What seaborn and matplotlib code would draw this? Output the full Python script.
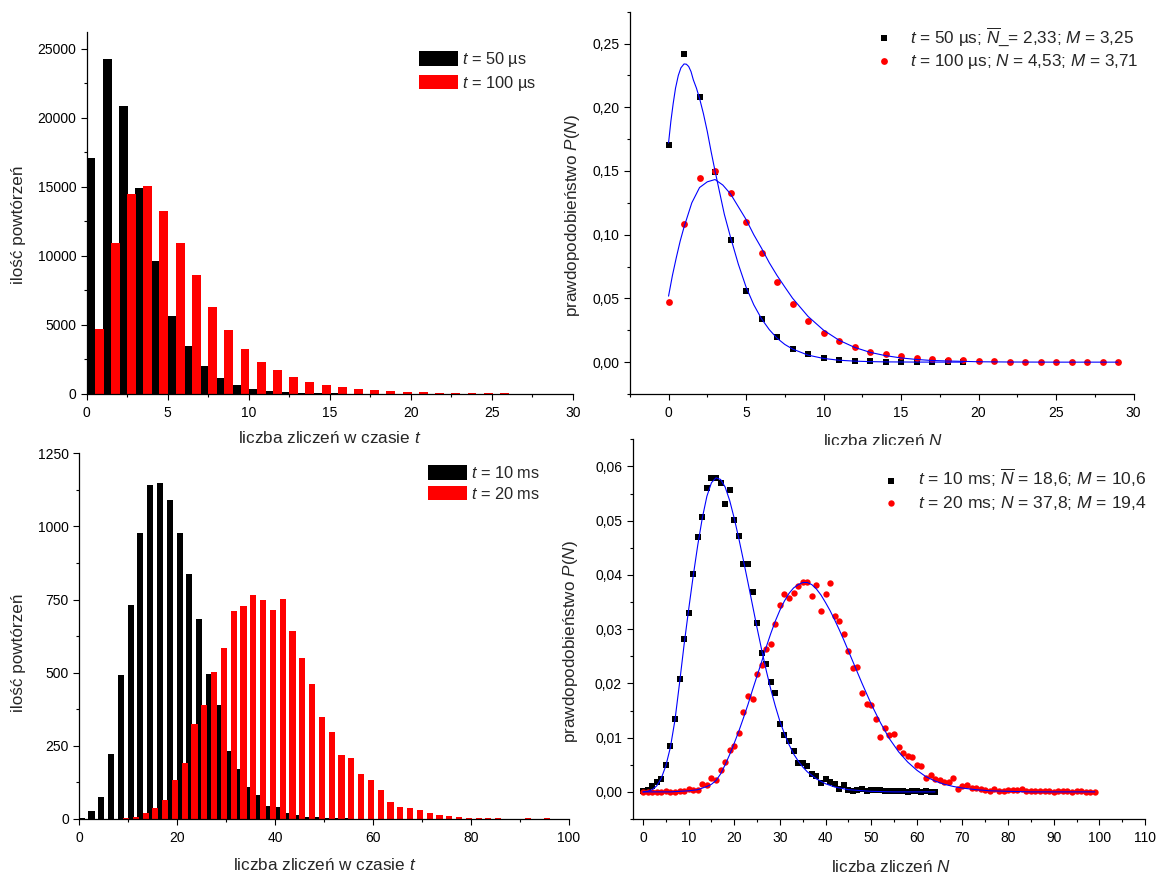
import matplotlib
import numpy as np
import seaborn as sns
from matplotlib.ticker import MultipleLocator, FuncFormatter
from matplotlib.transforms import Bbox, TransformedBbox

matplotlib.use("agg")
import matplotlib.pyplot as plt

W, H = 1157, 874

# --- top left: histograms, 50 us / 100 us -------------------------------
n_short = list(range(30))
hist_50us = [17085, 24230, 20870, 14910, 9580, 5620, 3450, 1980, 1130, 630,
             340, 190, 110, 60, 35, 20, 10, 5, 3, 2,
             1, 1, 0, 0, 0, 0, 0, 0, 0, 0]
hist_100us = [4660, 10880, 14500, 15030, 13270, 10950, 8570, 6300, 4580, 3210,
              2270, 1690, 1180, 820, 600, 480, 340, 270, 190, 130,
              100, 70, 50, 35, 25, 18, 12, 8, 5, 3]

# --- top right: probabilities and fitted curves --------------------------
n_p50 = list(range(20))
p_50us = [0.1707, 0.2419, 0.2084, 0.1492, 0.0958, 0.0560, 0.0340, 0.0194, 0.0107, 0.0060,
          0.0034, 0.0018, 0.0010, 0.0006, 0.0003, 0.0002, 0.0001, 0.0001, 0.0000, 0.0000]
n_p100 = list(range(30))
p_100us = [0.0469, 0.1086, 0.1448, 0.1497, 0.1327, 0.1097, 0.0856, 0.0628, 0.0458, 0.0322,
           0.0228, 0.0168, 0.0118, 0.0081, 0.0060, 0.0050, 0.0034, 0.0026, 0.0018, 0.0013,
           0.0010, 0.0007, 0.0005, 0.0004, 0.0003, 0.0002, 0.0002, 0.0001, 0.0001, 0.0000]

fit50_x = [0, 0.15, 0.3, 0.45, 0.63, 0.8, 1.0, 1.15, 1.3, 1.45, 1.6, 1.8, 2.0, 2.25, 2.5,
           2.75, 3.0, 3.3, 3.6, 4.0, 4.5, 5.0, 5.5, 6.0, 6.5, 7.0, 7.5, 8.0, 9.0, 10.0,
           11.0, 12.0, 13.0, 14.0, 16.0, 19.0]
fit50_y = [0.172, 0.189, 0.203, 0.215, 0.225, 0.231, 0.234, 0.2338, 0.232, 0.228, 0.2215,
           0.215, 0.207, 0.195, 0.181, 0.165, 0.150, 0.133, 0.116, 0.098, 0.077, 0.059,
           0.045, 0.034, 0.0255, 0.0188, 0.0139, 0.0103, 0.0055, 0.0029, 0.0015, 0.0008,
           0.0004, 0.0002, 0.00005, 0.0]
fit100_x = [0, 0.25, 0.5, 0.75, 1.0, 1.5, 2.0, 2.5, 3.0, 3.5, 4.0, 4.5, 5.0, 5.5, 6.0,
            6.5, 7.0, 7.5, 8.0, 9.0, 10.0, 11.0, 12.0, 13.0, 14.0, 15.0, 16.0, 17.0,
            18.0, 20.0, 22.0, 25.0, 29.0]
fit100_y = [0.0518, 0.068, 0.082, 0.095, 0.106, 0.125, 0.137, 0.1415, 0.1433, 0.139,
            0.132, 0.122, 0.112, 0.100, 0.0894, 0.078, 0.068, 0.059, 0.0502, 0.0359,
            0.0251, 0.0172, 0.0116, 0.0077, 0.0051, 0.0033, 0.0021, 0.0013, 0.0009,
            0.0003, 0.0001, 0.0, 0.0]

# --- bottom left: histograms, 10 ms / 20 ms (bins of 2 counts) ------------
bins_10ms = list(range(0, 66, 2))
hist_10ms = [2, 27, 74, 221, 493, 731, 976, 1141, 1149, 1089,
             976, 839, 682, 494, 388, 232, 171, 109, 81, 43,
             41, 22, 14, 8, 6, 4, 3, 2, 1, 1, 0, 0, 1]
bins_20ms = list(range(0, 96, 2))
hist_20ms = [0, 0, 0, 0, 2, 7, 20, 39, 65, 134,
             192, 325, 390, 502, 583, 711, 728, 765, 748, 716,
             752, 642, 552, 461, 350, 297, 219, 209, 154, 132,
             98, 57, 41, 37, 31, 20, 15, 11, 7, 4,
             4, 5, 3, 1, 0, 2, 0, 2]

# --- bottom right: probabilities and fitted curves -----------------------
n_p10 = list(range(65))
p_10ms = [0.0001, 0.0003, 0.0010, 0.0018, 0.0024, 0.0050, 0.0085, 0.0134, 0.0209, 0.0282,
          0.0329, 0.0401, 0.0469, 0.0506, 0.0561, 0.0579, 0.0579, 0.0570, 0.0531, 0.0556,
          0.0501, 0.0472, 0.0420, 0.0420, 0.0369, 0.0312, 0.0256, 0.0236, 0.0202, 0.0183,
          0.0126, 0.0104, 0.0093, 0.0075, 0.0053, 0.0053, 0.0047, 0.0033, 0.0029, 0.0017,
          0.0024, 0.0018, 0.0015, 0.0006, 0.0012, 0.0004, 0.0002, 0.0004, 0.0006, 0.0002,
          0.0003, 0.0003, 0.0004, 0.0002, 0.0001, 0.0002, 0.0001, 0.0001, 0.0000, 0.0001,
          0.0001, 0.0000, 0.0001, 0.0000, 0.0000]
n_p20 = list(range(100))
p_20ms = [0, 0, 0, 0, 0, 0.0001, 0, 0, 0.0001, 0.0001,
          0.0005, 0.0004, 0.0003, 0.0015, 0.0012, 0.0025, 0.0021, 0.0041, 0.0056, 0.0077,
          0.0084, 0.0109, 0.0147, 0.0176, 0.0172, 0.0217, 0.0234, 0.0264, 0.0273, 0.0309,
          0.0345, 0.0365, 0.0358, 0.0367, 0.0379, 0.0387, 0.0387, 0.0361, 0.0382, 0.0333,
          0.0364, 0.0385, 0.0325, 0.0315, 0.0291, 0.0259, 0.0228, 0.0231, 0.0182, 0.0162,
          0.0161, 0.0134, 0.0102, 0.0117, 0.0104, 0.0107, 0.0083, 0.0072, 0.0066, 0.0064,
          0.0050, 0.0047, 0.0025, 0.0032, 0.0023, 0.0021, 0.0019, 0.0018, 0.0025, 0.0005,
          0.0010, 0.0013, 0.0008, 0.0007, 0.0006, 0.0003, 0.0002, 0.0006, 0.0002, 0.0001,
          0.0003, 0.0003, 0.0004, 0.0005, 0.0002, 0.0001, 0.0001, 0.0002, 0.0001, 0.0001,
          0.0000, 0.0002, 0.0001, 0.0001, 0.0000, 0.0001, 0.0001, 0.0000, 0.0000, 0.0000]

fit10_x = [0, 1, 2, 3, 4, 5, 6, 7, 8, 9, 10, 11, 12, 13, 14, 15, 16, 17, 18, 19, 20,
           21, 22, 23, 24, 25, 26, 27, 28, 29, 30, 31, 32, 33, 34, 35, 36, 38, 40, 42,
           45, 50, 55, 64]
fit10_y = [0.0, 0.0001, 0.0004, 0.0011, 0.0025, 0.0048, 0.0082, 0.0132, 0.0200, 0.0271,
           0.0336, 0.0398, 0.0455, 0.0505, 0.0545, 0.0570, 0.0579, 0.0576, 0.0562, 0.0537,
           0.0504, 0.0467, 0.0427, 0.0386, 0.0344, 0.0302, 0.0262, 0.0224, 0.0189, 0.0158,
           0.0130, 0.0107, 0.0087, 0.0070, 0.0057, 0.0046, 0.0037, 0.0024, 0.0015, 0.0009,
           0.0004, 0.0001, 0.0, 0.0]
fit20_x = [0, 6, 8, 10, 12, 14, 15, 16, 17, 18, 19, 20, 21, 22, 23, 24, 25, 26, 27, 28,
           29, 30, 31, 32, 33, 34, 35, 36, 37, 38, 39, 40, 41, 42, 43, 44, 45, 46, 47,
           48, 49, 50, 52, 54, 56, 58, 60, 62, 64, 66, 68, 70, 73, 76, 80, 85, 99]
fit20_y = [0.0, 0.0, 0.0001, 0.0002, 0.0004, 0.0010, 0.0014, 0.0021, 0.0033, 0.0050,
           0.0069, 0.0090, 0.0112, 0.0136, 0.0161, 0.0188, 0.0214, 0.0240, 0.0267, 0.0292,
           0.0315, 0.0335, 0.0352, 0.0366, 0.0376, 0.0382, 0.0386, 0.0386, 0.0382, 0.0374,
           0.0363, 0.0349, 0.0334, 0.0317, 0.0299, 0.0280, 0.0260, 0.0240, 0.0220, 0.0200,
           0.0181, 0.0162, 0.0128, 0.0098, 0.0074, 0.0055, 0.0040, 0.0028, 0.0020, 0.0014,
           0.0010, 0.0007, 0.0004, 0.0002, 0.0001, 0.0, 0.0]

sns.set_style("ticks")
plt.rcParams["font.family"] = ["Liberation Sans", "DejaVu Sans"]
plt.rcParams["mathtext.fontset"] = "custom"
plt.rcParams["mathtext.rm"] = "Liberation Sans"
plt.rcParams["mathtext.it"] = "Liberation Sans:italic"
plt.rcParams["mathtext.bf"] = "Liberation Sans:bold"

fig = plt.figure(figsize=(W / 100, H / 100), dpi=100)
fig.patch.set_facecolor("white")


def fx(px):
    return px / W


def fy(py):
    return 1 - py / H


def axes_px(left, top, right, bottom):
    ax = fig.add_axes([fx(left), fy(bottom), (right - left) / W, (bottom - top) / H])
    ax.set_facecolor("none")
    return ax


def comma(v, pos):
    if abs(v) < 1e-9:
        v = 0.0
    return f"{v:.2f}".replace(".", ",")


def style(ax, xmaj, ymaj, use_comma=False):
    ax.spines[["top", "right"]].set_visible(False)
    for s in ["left", "bottom"]:
        ax.spines[s].set_linewidth(0.9)
        ax.spines[s].set_color("black")
    ax.xaxis.set_major_locator(MultipleLocator(xmaj))
    ax.xaxis.set_minor_locator(MultipleLocator(xmaj / 2))
    ax.yaxis.set_major_locator(MultipleLocator(ymaj))
    ax.yaxis.set_minor_locator(MultipleLocator(ymaj / 2))
    ax.tick_params(which="major", direction="out", length=4.5, width=0.8,
                   labelsize=10, color="black", labelcolor="black")
    ax.tick_params(which="minor", direction="out", length=2.5, width=0.8, color="black")
    ax.tick_params(axis="x", pad=4)
    ax.tick_params(axis="y", pad=3)
    if use_comma:
        ax.yaxis.set_major_formatter(FuncFormatter(comma))


def labels(ax, xl, xc, yl, yc):
    ax.set_xlabel(xl, fontsize=12.3, va="center")
    ax.xaxis.set_label_coords(fx(xc[0]), fy(xc[1]), transform=fig.transFigure)
    ax.set_ylabel(yl, fontsize=12.3, va="center")
    ax.yaxis.set_label_coords(fx(yc[0]), fy(yc[1]), transform=fig.transFigure)


# ---------------- top left ----------------
ax1 = axes_px(86.6, 32, 573, 393.7)
sns.barplot(x=np.array(n_short) + 0.27, y=hist_50us, native_scale=True, width=0.55,
            color="black", saturation=1, linewidth=0, errorbar=None, ax=ax1,
            label=r"$t$ = 50 µs")
sns.barplot(x=np.array(n_short) + 0.77, y=hist_100us, native_scale=True, width=0.55,
            color="#ff0000", saturation=1, linewidth=0, errorbar=None, ax=ax1,
            label=r"$t$ = 100 µs")
ax1.set_xlim(0, 30)
ax1.set_ylim(0, 26200)
style(ax1, 5, 5000)
labels(ax1, r"liczba zliczeń w czasie $t$", (330, 438), "ilość powtórzeń", (18.5, 224.5))
ax1.legend(loc="upper left", bbox_to_anchor=(fx(419), fy(50)), bbox_transform=fig.transFigure,
           frameon=False, fontsize=11.8, handlelength=2.35, handleheight=1.0,
           handletextpad=0.3, labelspacing=0.28, borderpad=0, borderaxespad=0)

# ---------------- top right ----------------
ax2 = axes_px(629.8, 11.7, 1133.5, 394)
sns.scatterplot(x=n_p50, y=p_50us, marker="s", s=16, color="black", linewidth=0,
                ax=ax2, label=r"$t$ = 50 µs; $\overline{N}$_= 2,33; $M$ = 3,25", zorder=3)
sns.scatterplot(x=n_p100, y=p_100us, marker="o", s=24, color="#ff0000", linewidth=0,
                ax=ax2, label=r"$t$ = 100 µs; $N$ = 4,53; $M$ = 3,71", zorder=3)
sns.lineplot(x=fit50_x, y=fit50_y, color="#0000ff", linewidth=0.8, ax=ax2, legend=False,
             zorder=4)
sns.lineplot(x=fit100_x, y=fit100_y, color="#0000ff", linewidth=0.8, ax=ax2, legend=False,
             zorder=4)
ax2.set_xlim(-2.5, 30)
ax2.set_ylim(-0.025, 0.275)
style(ax2, 5, 0.05, use_comma=True)
labels(ax2, r"liczba zliczeń $N$", (883, 441), r"prawdopodobieństwo $P$($N$)", (572, 216))
clip = TransformedBbox(Bbox([[0, fy(445)], [1, 1]]), fig.transFigure)
ax2.xaxis.label.set_clip_box(clip)
ax2.xaxis.label.set_clip_on(True)
h, l = ax2.get_legend_handles_labels()
ax2.legend(h[:2], l[:2], loc="upper left", bbox_to_anchor=(fx(875), fy(25)),
           bbox_transform=fig.transFigure, frameon=False, fontsize=12.3, handlelength=1.0,
           handletextpad=1.05, labelspacing=0.25, borderpad=0, borderaxespad=0)

# ---------------- bottom left ----------------
ax3 = axes_px(79.2, 453.3, 569, 819)
sns.barplot(x=np.array(bins_10ms) + 0.5, y=hist_10ms, native_scale=True, width=0.625,
            color="black", saturation=1, linewidth=0, errorbar=None, ax=ax3,
            label=r"$t$ = 10 ms")
sns.barplot(x=np.array(bins_20ms) + 1.55, y=hist_20ms, native_scale=True, width=0.625,
            color="#ff0000", saturation=1, linewidth=0, errorbar=None, ax=ax3,
            label=r"$t$ = 20 ms")
ax3.set_xlim(0, 100)
ax3.set_ylim(0, 1250)
style(ax3, 20, 250)
labels(ax3, r"liczba zliczeń w czasie $t$", (325, 865), "ilość powtórzeń", (18.5, 653))
ax3.legend(loc="upper left", bbox_to_anchor=(fx(428), fy(465)), bbox_transform=fig.transFigure,
           frameon=False, fontsize=11.8, handlelength=2.35, handleheight=1.0,
           handletextpad=0.3, labelspacing=0.28, borderpad=0, borderaxespad=0)

# ---------------- bottom right ----------------
ax4 = axes_px(632.5, 439.3, 1145, 819)
sns.scatterplot(x=n_p10, y=p_10ms, marker="s", s=16, color="black", linewidth=0,
                ax=ax4, label=r"$t$ = 10 ms; $\overline{N}$ = 18,6; $M$ = 10,6", zorder=3)
sns.scatterplot(x=n_p20, y=p_20ms, marker="o", s=21, color="#ff0000", linewidth=0,
                ax=ax4, label=r"$t$ = 20 ms; $N$ = 37,8; $M$ = 19,4", zorder=3)
sns.lineplot(x=fit10_x, y=fit10_y, color="#0000ff", linewidth=0.8, ax=ax4, legend=False,
             zorder=4)
sns.lineplot(x=fit20_x, y=fit20_y, color="#0000ff", linewidth=0.8, ax=ax4, legend=False,
             zorder=4)
ax4.set_xlim(-2.3, 110)
ax4.set_ylim(-0.005, 0.065)
style(ax4, 10, 0.01, use_comma=True)
labels(ax4, r"liczba zliczeń $N$", (891, 866.5), r"prawdopodobieństwo $P$($N$)", (571, 642))
h, l = ax4.get_legend_handles_labels()
ax4.legend(h[:2], l[:2], loc="upper left", bbox_to_anchor=(fx(882), fy(467)),
           bbox_transform=fig.transFigure, frameon=False, fontsize=12.6, handlelength=1.0,
           handletextpad=1.05, labelspacing=0.25, borderpad=0, borderaxespad=0)

fig.savefig("out.png", dpi=100)
